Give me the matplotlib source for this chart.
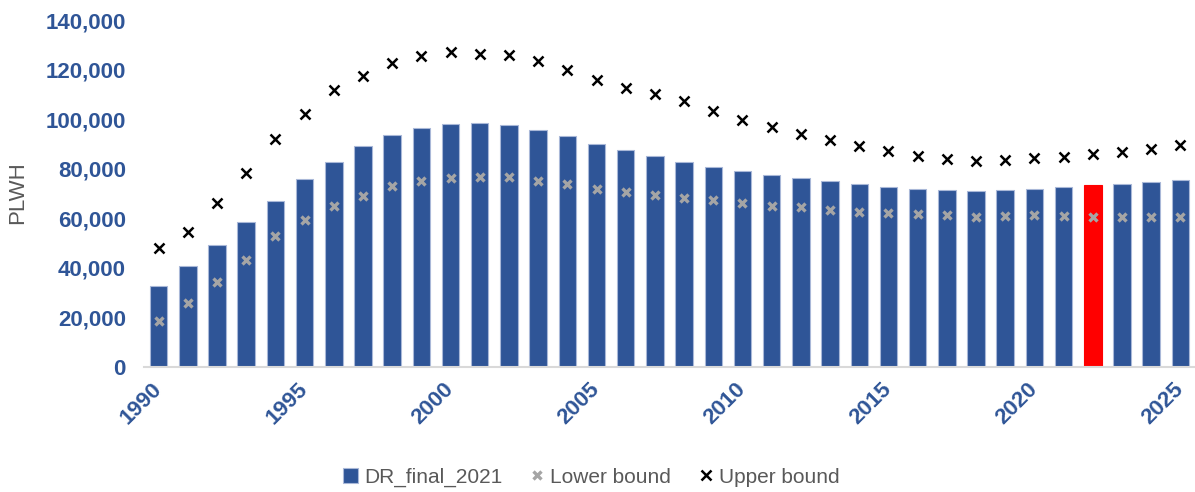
import matplotlib.pyplot as plt
import numpy as np

years = list(range(1990, 2026))
dr_final_2021 = [32800, 40600, 49300, 58500, 67200, 75700, 82900, 89100, 93700, 96500,
                 98100, 98300, 97600, 95800, 93100, 90200, 87500, 85000, 82700, 80800,
                 79200, 77500, 76100, 74900, 73700, 72700, 72000, 71500, 71200, 71400,
                 72000, 72600, 73400, 73900, 74600, 75300]
lower_bound = [18500, 25900, 34200, 43100, 52700, 59200, 64900, 69200, 73000, 74900,
               76200, 76900, 76700, 74900, 73700, 72000, 70700, 69400, 68300, 67600,
               66400, 65000, 64400, 63300, 62600, 62200, 61600, 61300, 60600, 60800,
               61400, 61000, 60600, 60600, 60600, 60400]
upper_bound = [47900, 54300, 66400, 78300, 91900, 102000, 111700, 117300, 122900, 125700,
               127100, 126500, 125900, 123700, 119900, 116000, 112800, 110000, 107300, 103200,
               99600, 97000, 94200, 91800, 89100, 87200, 85300, 84000, 83200, 83500,
               84300, 84900, 86000, 86700, 88000, 89500]
highlight_year = 2022
label_years = [1990, 1995, 2000, 2005, 2010, 2015, 2020, 2025]

blue = "#2F5597"
tick_blue = "#2F5597"
text_gray = "#595959"

plt.rcParams['font.family'] = ['Liberation Sans', 'DejaVu Sans']

fig = plt.figure(figsize=(11.95, 4.92), dpi=100)
ax = fig.add_axes([0.1205, 0.254, 0.8795, 0.705])

x = np.arange(len(years))
colors = ["#FF0000" if y == highlight_year else blue for y in years]
edges = ["#FF0000" if y == highlight_year else "#A9B8D8" for y in years]
bars = ax.bar(x, dr_final_2021, width=0.6, color=colors, edgecolor=edges, linewidth=0.8,
              label="DR_final_2021", zorder=2)
lo, = ax.plot(x, lower_bound, linestyle="none", marker="x", color="#A5A5A5", ms=6, mew=2.4,
              label="Lower bound", zorder=3)
hi, = ax.plot(x, upper_bound, linestyle="none", marker="x", color="black", ms=7, mew=1.8,
              label="Upper bound", zorder=3)

ax.set_xlim(-0.5, len(years) - 0.5)
ax.set_ylim(0, 140000)
ax.set_yticks(np.arange(0, 140001, 20000))
ax.set_yticklabels([f"{v:,}" for v in range(0, 140001, 20000)])
ax.set_xticks([years.index(y) for y in label_years])
ax.set_xticklabels([str(y) for y in label_years], rotation=45, ha="right",
                   rotation_mode="anchor", va="center")

ax.tick_params(axis="y", length=0, pad=13, labelsize=16, labelcolor=tick_blue)
ax.tick_params(axis="x", length=0, pad=14, labelsize=16, labelcolor=tick_blue)
for lbl in ax.get_xticklabels() + ax.get_yticklabels():
    lbl.set_fontweight("bold")

for s in ["top", "right", "left"]:
    ax.spines[s].set_visible(False)
ax.spines["bottom"].set_color("#D9D9D9")
ax.spines["bottom"].set_linewidth(1.5)

# y label placed directly so it isn't clipped at the left edge
fig.text(18 / 1195, 1 - 193 / 492, "PLWH", rotation=90, fontsize=16, color=text_gray,
         ha="center", va="center")

leg = fig.legend(handles=[bars, lo, hi], loc="center", bbox_to_anchor=(0.495, 0.03), ncol=3,
                 frameon=False, fontsize=15, handlelength=0.7, handletextpad=0.3,
                 columnspacing=1.3)
for t in leg.get_texts():
    t.set_color(text_gray)

fig.savefig("out.png", dpi=100)
